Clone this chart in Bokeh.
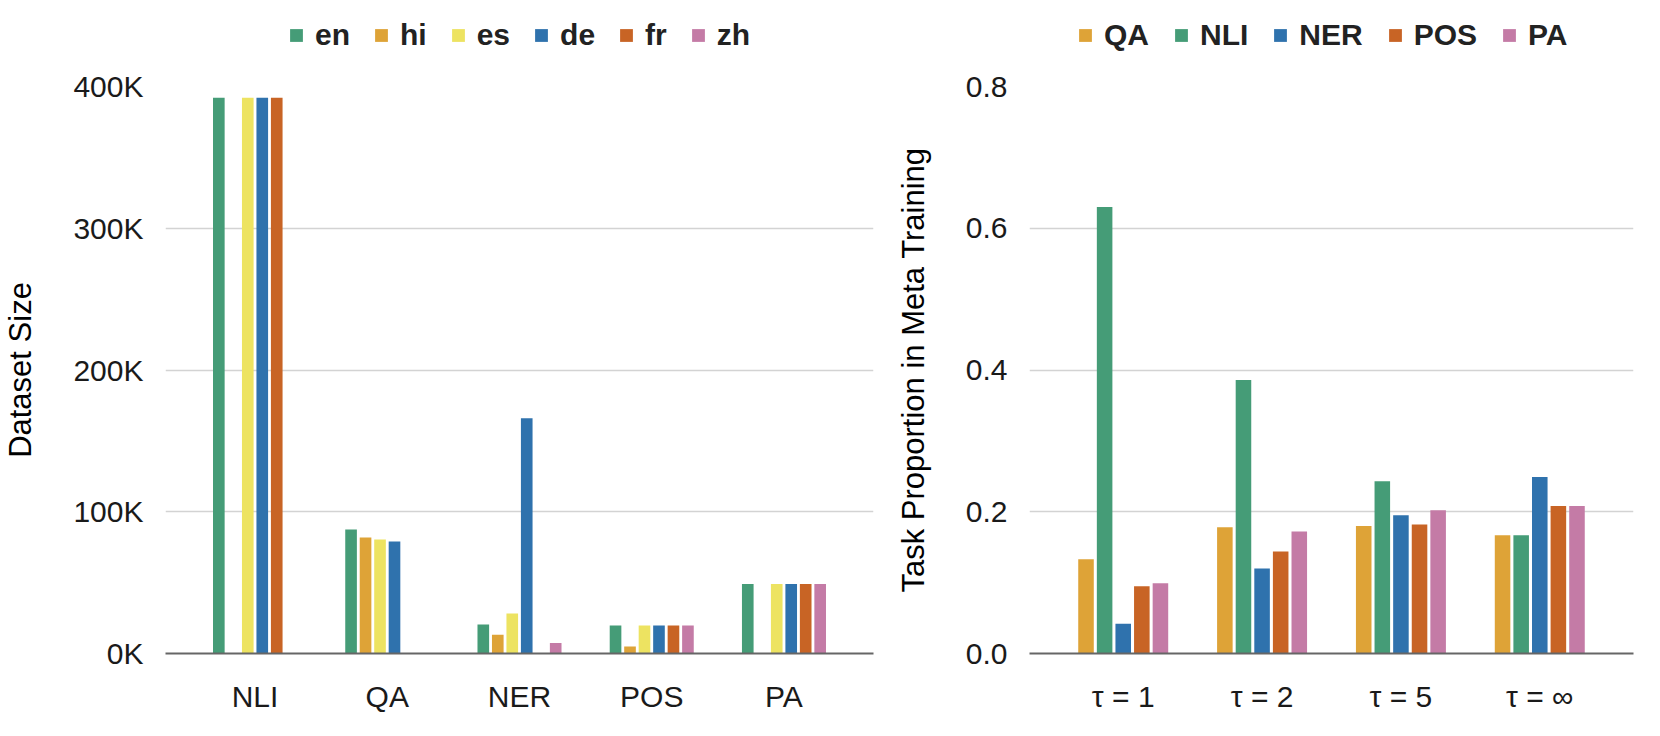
import numpy as np
from bokeh.plotting import figure
from bokeh.models import Range1d, FixedTicker, Legend, LegendItem, ColumnDataSource
from bokeh.layouts import row, column
from bokeh.transform import dodge
from bokeh.embed import file_html
from bokeh.resources import INLINE

NaN = float("nan")

# ---------------- Left chart data: dataset sizes ----------------
tasks = ["NLI", "QA", "NER", "POS", "PA"]
langs = ["en", "hi", "es", "de", "fr", "zh"]
size_en = [392000, 87500, 20500, 19700, 49000]
size_hi = [NaN, 81800, 13200, 4900, NaN]
size_es = [392000, 80500, 28300, 19700, 49000]
size_de = [392000, 79000, 166000, 19700, 49000]
size_fr = [392000, NaN, NaN, 19700, 49000]
size_zh = [NaN, NaN, 7400, 19700, 49000]
lang_colors = ["#459c77", "#dea337", "#ede361", "#2f72ad", "#c86425", "#c47ba6"]
size_ticks = [0, 100000, 200000, 300000, 400000]
size_tick_labels = ["0K", "100K", "200K", "300K", "400K"]

# ---------------- Right chart data: task proportions ----------------
taus = ["\u03c4 = 1", "\u03c4 = 2", "\u03c4 = 5", "\u03c4 = \u221e"]
prop_tasks = ["QA", "NLI", "NER", "POS", "PA"]
prop_QA = [0.133, 0.178, 0.180, 0.167]
prop_NLI = [0.630, 0.386, 0.243, 0.167]
prop_NER = [0.042, 0.120, 0.195, 0.249]
prop_POS = [0.095, 0.144, 0.182, 0.208]
prop_PA = [0.099, 0.172, 0.202, 0.208]
task_colors = ["#dea337", "#459c77", "#2f72ad", "#c86425", "#c47ba6"]
prop_ticks = [0, 0.2, 0.4, 0.6, 0.8]
prop_tick_labels = ["0.0", "0.2", "0.4", "0.6", "0.8"]

FONT = "Liberation Sans"
TICK_SIZE = "30px"
TITLE_SIZE = "31px"


def style(p, ticks, tick_labels, n_cats, cat_labels, ylabel):
    p.outline_line_color = None
    p.background_fill_color = "white"
    p.border_fill_color = "white"
    p.xgrid.grid_line_color = None
    p.ygrid.grid_line_color = "#d3d3d3"
    p.ygrid.grid_line_width = 1.5

    p.yaxis.ticker = FixedTicker(ticks=ticks)
    p.yaxis.major_label_overrides = dict(zip(ticks, tick_labels))
    p.yaxis.axis_line_color = None
    p.yaxis.major_tick_line_color = None
    p.yaxis.minor_tick_line_color = None
    p.yaxis.major_label_standoff = 16
    p.yaxis.major_label_text_font = FONT
    p.yaxis.major_label_text_font_size = TICK_SIZE
    p.yaxis.major_label_text_color = "#1a1a1a"
    p.yaxis.axis_label = ylabel
    p.yaxis.axis_label_text_font = FONT
    p.yaxis.axis_label_text_font_size = TITLE_SIZE
    p.yaxis.axis_label_text_font_style = "normal"
    p.yaxis.axis_label_text_color = "#000000"
    p.yaxis.axis_label_standoff = 32

    idx = list(range(n_cats))
    p.xaxis.ticker = FixedTicker(ticks=idx)
    p.xaxis.major_label_overrides = dict(zip(idx, cat_labels))
    p.xaxis.axis_line_color = "#666666"
    p.xaxis.axis_line_width = 2
    p.xaxis.major_tick_line_color = None
    p.xaxis.minor_tick_line_color = None
    p.xaxis.major_label_standoff = 20
    p.xaxis.major_label_text_font = FONT
    p.xaxis.major_label_text_font_size = TICK_SIZE
    p.xaxis.major_label_text_color = "#1a1a1a"


def legend_strip(width, labels, colors, source, loc, spacing):
    # a strip above the chart that only holds its legend
    lf = figure(width=width, height=60, x_range=Range1d(0, 1), y_range=Range1d(0, 1),
                output_backend="svg", toolbar_location=None,
                x_axis_location=None, y_axis_location=None,
                min_border_left=0, min_border_right=0, min_border_top=0, min_border_bottom=0)
    lf.outline_line_color = None
    lf.grid.visible = False
    items = []
    for lab, col in zip(labels, colors):
        r = lf.vbar(x="idx", top=lab, width=0.1, source=source,
                    fill_color=col, line_color=None, visible=False)
        items.append(LegendItem(label=lab, renderers=[r]))
    lg = Legend(items=items, orientation="horizontal", location=loc,
                padding=0, margin=0, spacing=spacing,
                glyph_width=16, glyph_height=16, label_standoff=11,
                border_line_color=None, background_fill_alpha=0,
                label_text_font=FONT, label_text_font_size="30px",
                label_text_font_style="bold", label_text_color="#222222")
    lf.add_layout(lg)
    return lf


# ---------------- Left figure ----------------
p1 = figure(width=892, height=660, x_range=Range1d(-0.677, 4.677),
            y_range=Range1d(0, 400000), output_backend="svg",
            toolbar_location=None, min_border_left=159, min_border_right=19,
            min_border_top=26, min_border_bottom=67)
src1 = ColumnDataSource(dict(
    idx=list(range(len(tasks))),
    en=np.array(size_en, dtype=float), hi=np.array(size_hi, dtype=float),
    es=np.array(size_es, dtype=float), de=np.array(size_de, dtype=float),
    fr=np.array(size_fr, dtype=float), zh=np.array(size_zh, dtype=float)))
step1 = 0.1095
for i, (lang, col) in enumerate(zip(langs, lang_colors)):
    p1.vbar(x=dodge("idx", (i - (len(langs) - 1) / 2) * step1, range=p1.x_range),
            top=lang, width=0.088, source=src1, fill_color=col, line_color=None)
style(p1, size_ticks, size_tick_labels, len(tasks), tasks, "Dataset Size")
l1 = legend_strip(892, langs, lang_colors, src1, (123, 8), 23)

# ---------------- Right figure ----------------
p2 = figure(width=752, height=660, x_range=Range1d(-0.675, 3.675),
            y_range=Range1d(0, 0.8), output_backend="svg",
            toolbar_location=None, min_border_left=133, min_border_right=11,
            min_border_top=26, min_border_bottom=67)
src2 = ColumnDataSource(dict(
    idx=list(range(len(taus))),
    QA=prop_QA, NLI=prop_NLI, NER=prop_NER, POS=prop_POS, PA=prop_PA))
step2 = 0.134
for i, (t, col) in enumerate(zip(prop_tasks, task_colors)):
    p2.vbar(x=dodge("idx", (i - (len(prop_tasks) - 1) / 2) * step2, range=p2.x_range),
            top=t, width=0.112, source=src2, fill_color=col, line_color=None)
style(p2, prop_ticks, prop_tick_labels, len(taus), taus, "Task Proportion in Meta Training")
l2 = legend_strip(752, prop_tasks, task_colors, src2, (48, 8), 24)

layout = row(column(l1, p1), column(l2, p2))
open("out.html", "w").write(file_html(layout, INLINE))
